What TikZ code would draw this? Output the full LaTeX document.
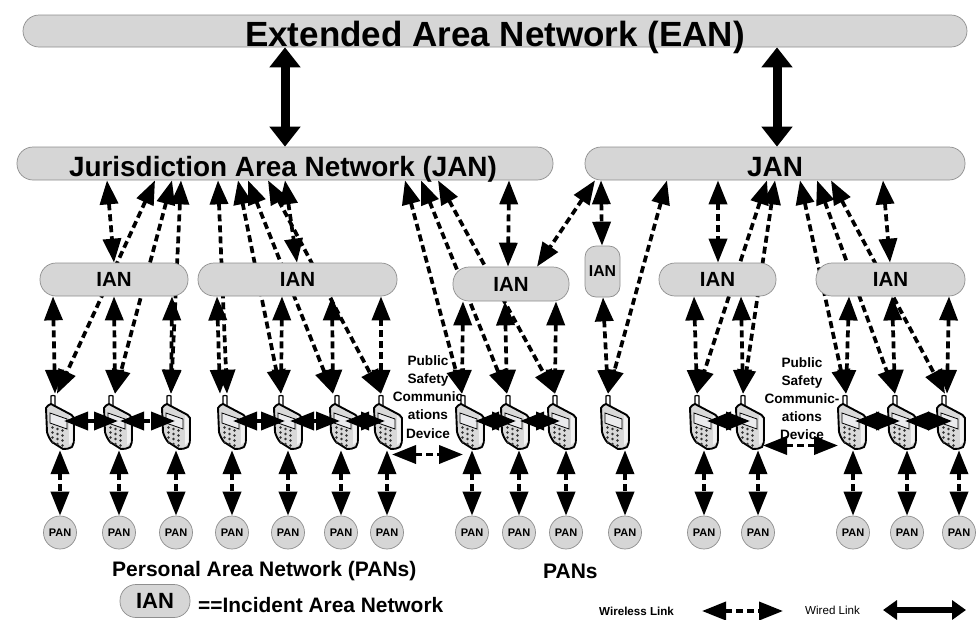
\documentclass[tikz,border=0pt]{standalone}
\usepackage{fontspec}
\setmainfont{Liberation Sans}
\usetikzlibrary{arrows.meta}
\pgfdeclarelayer{wires}
\pgfsetlayers{wires,main}
\definecolor{netgray}{HTML}{D6D6D6}
\definecolor{netline}{HTML}{8E8E8E}
\newcommand{\fs}[1]{\fontsize{#1}{#1}\selectfont\bfseries}
\tikzset{
  net/.style={draw=netline,fill=netgray,line width=.7pt,rounded corners=16pt,inner sep=0pt},
  pannode/.style={circle,draw=netline,fill=netgray,line width=.7pt,minimum size=33pt,inner sep=0pt,font=\fs{11}},
  ian/.style={net,minimum height=33pt,font=\fs{20.5}},
  wl/.style={line width=3.7pt,dash pattern=on 7pt off 4pt,{Triangle[length=24pt,width=18pt]}-{Triangle[length=24pt,width=18pt]}},
  wiredlink/.style={line width=9pt,{Triangle[length=20pt,width=30pt]}-{Triangle[length=20pt,width=30pt]}},
  phonebox/.style={minimum width=26pt,minimum height=56pt,inner sep=0pt},
  psc/.style={align=center,font=\fs{13.6},inner sep=0pt},
  phone/.pic={
    \draw[line width=1.2pt,fill=white] (-9,-17) -- (-9,-26) to[bend left=30] (-5,-26) -- (-5,-15);
    \draw[line width=1.9pt,fill=gray!30,line join=round] (-14,-14) to[bend left=20] (-9,-18) -- (8,-9) to[bend left=20] (14,-4) -- (14,16) to[bend left=15] (12,25) to[bend left=15] (3,27) -- (-8,20) to[bend left=10] (-13,10) -- cycle;
    \fill[white!90!gray] (9,-7) -- (12.5,-3) -- (12.5,20) -- (9,23) -- cycle;
    \draw[line width=.8pt,fill=blue!6!gray!15] (-10,-9) -- (7,-3) -- (7,7) -- (-10,1) -- cycle;
    \foreach \r in {0,1,2,3} \foreach \c in {0,1,2}
      \fill[black!80] (-7.5+5*\c,5.5+5*\r+1.5*\c) circle (1.4);
  }
}
\begin{document}
\begin{tikzpicture}[x=1pt,y=-1pt]
\useasboundingbox (0,0) rectangle (979,619);
\begin{pgfonlayer}{wires}
\fill[white] (0,0) rectangle (979,619);
\end{pgfonlayer}
% networks
\node[net,minimum width=944pt,minimum height=32pt] (ean) at (495,31) {\fs{35}\smash{\raisebox{-15pt}{Extended Area Network (EAN)}}};
\node[net,minimum width=536pt,minimum height=33pt] (jana) at (285,163.5) {\fs{27.9}\hspace*{-4pt}\smash{\raisebox{-12.5pt}{Jurisdiction Area Network (JAN)}}};
\node[net,minimum width=380pt,minimum height=33pt] (janb) at (775,163.5) {\fs{27.9}\smash{\raisebox{-12.5pt}{JAN}}};
\node[ian,minimum width=148pt] (ian1) at (114,279.5) {IAN};
\node[ian,minimum width=199pt] (ian2) at (297.5,279.5) {IAN};
\node[ian,minimum width=116pt,minimum height=34pt] (ian3) at (511,284) {IAN};
\node[net,minimum width=35pt,minimum height=51pt,rounded corners=11pt,font=\fs{15.8}] (ian4) at (602.5,271.5) {IAN};
\node[ian,minimum width=117pt] (ian5) at (717.5,279.5) {IAN};
\node[ian,minimum width=149pt] (ian6) at (890.5,279.5) {IAN};
% text beside the devices
\node[psc] (psca) at (428,397) {Public\\[4.5pt]Safety\\[4.5pt]Communic\\[4.5pt]ations\\[4.5pt]Device};
\node[psc] (pscb) at (802,398.5) {Public\\[4.5pt]Safety\\[4.5pt]Communic-\\[4.5pt]ations\\[4.5pt]Device};
% phones and PANs
\foreach \n/\x/\px in {1/60/60,2/118/119,3/176/176,4/232/232,5/288/288,6/344/341,7/388/387,
  8/470/472,9/515/519,10/562/566,11/615/625,12/704/704,13/750/758,14/852/853,15/902/907,16/951/959}{
  \node[phonebox] (ph\n) at (\x,422) {};
  \pic at (\x,422) {phone};
  \node[pannode] (pan\n) at (\px,532.5) {PAN};
  \draw[wl] (\px,0 |- ph\n.south) -- (\px,0 |- pan\n.north);
}
% links to IANs and JANs
\newcommand{\lk}[4]{\draw[wl] (#1,0 |- #2.south) -- (#3,0 |- #4.north);}
\begin{pgfonlayer}{wires}
\lk{155}{jana}{57}{ph1}
\lk{172}{jana}{115}{ph2}
\lk{181}{jana}{171}{ph3}
\lk{218}{jana}{227}{ph4}
\lk{238}{jana}{281}{ph5}
\lk{248}{jana}{333}{ph6}
\lk{268}{jana}{381}{ph7}
\lk{405}{jana}{462}{ph8}
\lk{421}{jana}{507}{ph9}
\lk{438}{jana}{555}{ph10}
\lk{667}{janb}{608}{ph11}
\lk{767}{janb}{697}{ph12}
\lk{775}{janb}{743}{ph13}
\lk{800}{janb}{846}{ph14}
\lk{817}{janb}{895}{ph15}
\lk{831}{janb}{945}{ph16}
\end{pgfonlayer}
\lk{107}{jana}{114}{ian1}
\lk{285}{jana}{297}{ian2}
\lk{509}{jana}{508}{ian3}
\lk{595}{janb}{537}{ian3}
\lk{601}{janb}{602}{ian4}
\lk{718}{janb}{718}{ian5}
\lk{883}{janb}{890}{ian6}
\lk{53}{ian1}{55}{ph1}
\lk{114}{ian1}{115}{ph2}
\lk{172}{ian1}{171}{ph3}
\lk{217}{ian2}{220}{ph4}
\lk{282}{ian2}{281}{ph5}
\lk{332}{ian2}{333}{ph6}
\lk{381}{ian2}{381}{ph7}
\lk{463}{ian3}{462}{ph8}
\lk{505}{ian3}{507}{ph9}
\lk{556}{ian3}{555}{ph10}
\lk{603}{ian4}{608}{ph11}
\lk{694}{ian5}{697}{ph12}
\lk{741}{ian5}{743}{ph13}
\lk{849}{ian6}{846}{ph14}
\lk{892}{ian6}{895}{ph15}
\lk{949}{ian6}{947}{ph16}
% between phones
\foreach \a/\b in {64/118,120/175,233/285,290/340,345/385,475/516,520/560,707/750,855/900,905/952}
  \draw[wl] (\a,421) -- (\b,421);
\coordinate (wa) at (392,454.5);
\coordinate (wb) at (463,454.5);
\draw[wl] (wa) -- (wb);
\coordinate (wc) at (763,445.5);
\coordinate (wd) at (838,445.5);
\draw[wl] (wc) -- (wd);
% wired uplinks
\draw[wiredlink] (285,0 |- ean.south) -- (285,0 |- jana.north);
\draw[wiredlink] (777,0 |- ean.south) -- (777,0 |- janb.north);
% legend
\node[anchor=west,inner sep=0pt] (lpan) at (112,571.5) {\fs{21}Personal Area Network (PANs)};
\node[anchor=west,inner sep=0pt] (lpans) at (543,571.5) {\fs{21}PANs};
\node[ian,minimum width=70pt] (lian) at (155,601) {\fs{22}IAN};
\node[anchor=west,inner sep=0pt] (lianb) at (198,605) {\fs{20.9}==Incident Area Network};
\node[anchor=west,inner sep=0pt] (lwl) at (599,611) {\fs{11.6}Wireless Link};
\node[anchor=west,inner sep=0pt,font=\fontsize{11.6}{11.6}\selectfont] (lwd) at (805,610) {Wired Link};
\coordinate (la) at (702,611);
\coordinate (lb) at (783,611);
\draw[wl] (la) -- (lb);
\coordinate (lc) at (883,610);
\coordinate (ld) at (966,610);
\draw[line width=6pt,{Triangle[length=14pt,width=19pt]}-{Triangle[length=14pt,width=19pt]}] (lc) -- (ld);
\end{tikzpicture}
\end{document}
